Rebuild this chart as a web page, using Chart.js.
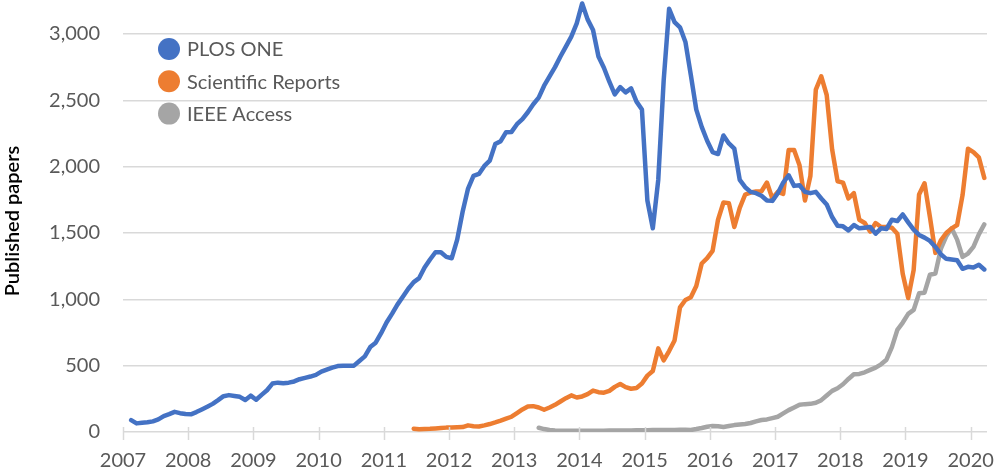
<!DOCTYPE html>
<html>
<head>
<meta charset="utf-8">
<script src="https://cdn.jsdelivr.net/npm/chart.js@4/dist/chart.umd.min.js"></script>
<style>
  html, body { margin: 0; padding: 0; background: #ffffff; }
  #wrap { width: 997px; height: 469px; position: relative; }
</style>
</head>
<body>
<div id="wrap"><canvas id="c"></canvas></div>
<script>
// ---- Data (monthly counts of published papers) ----
const seriesNames = ["PLOS ONE", "Scientific Reports", "IEEE Access"];
const seriesColors = ["#4472C4", "#ED7D31", "#A5A5A5"];
const yTitle = "Published papers";
const xTickYears = [2007, 2008, 2009, 2010, 2011, 2012, 2013, 2014, 2015, 2016, 2017, 2018, 2019, 2020];
const yTickValues = [0, 500, 1000, 1500, 2000, 2500, 3000];

// first month of each series: [year, month(1-12)]
const plosStart = [2007, 2];
const sciRepStart = [2011, 6];
const ieeeStart = [2013, 5];

const plosOne = [
  90, 65, 70, 73, 80, 95, 120, 135, 152, 142, 135,
  133, 150, 170, 190, 212, 240, 270, 278, 272, 265, 241, 274,
  243, 280, 315, 365, 372, 368, 372, 381, 398, 408, 418, 430,
  455, 470, 485, 497, 500, 500, 500, 535, 570, 640, 673, 745,
  825, 890, 960, 1020, 1080, 1130, 1160, 1240, 1300, 1355, 1355, 1320,
  1310, 1450, 1660, 1835, 1930, 1945, 2005, 2045, 2170, 2192, 2260, 2262,
  2320, 2358, 2410, 2470, 2520, 2610, 2680, 2750, 2830, 2905, 2980, 3080,
  3230, 3110, 3030, 2830, 2745, 2640, 2545, 2600, 2560, 2590, 2490, 2430,
  1745, 1535, 1900, 2650, 3190, 3090, 3050, 2940, 2690, 2430, 2300, 2195,
  2110, 2095, 2235, 2175, 2135, 1900, 1845, 1810, 1800, 1780, 1745, 1742,
  1800, 1880, 1935, 1855, 1860, 1810, 1800, 1810, 1760, 1715, 1620, 1555,
  1550, 1520, 1560, 1535, 1540, 1545, 1495, 1535, 1530, 1600, 1590, 1640,
  1580, 1525, 1485, 1465, 1440, 1395, 1340, 1305, 1300, 1295, 1230, 1245,
  1240, 1260, 1225
];

const sciRep = [
  25, 20, 22, 24, 27, 30, 33,
  33, 35, 37, 50, 44, 42, 50, 60, 72, 85, 100, 115,
  142, 170, 192, 195, 185, 168, 185, 205, 230, 255, 276, 260,
  268, 285, 312, 300, 296, 310, 340, 362, 338, 326, 332, 365,
  425, 460, 630, 540, 610, 690, 940, 995, 1015, 1100, 1270, 1310,
  1365, 1600, 1730, 1725, 1545, 1690, 1790, 1805, 1812, 1815, 1880, 1760,
  1810, 1795, 2125, 2125, 2010, 1745, 1930, 2580, 2680, 2540, 2130, 1890,
  1880, 1760, 1800, 1600, 1575, 1510, 1575, 1545, 1545, 1540, 1495, 1190,
  1010, 1220, 1790, 1875, 1620, 1350, 1445, 1500, 1535, 1560, 1785, 2135,
  2110, 2070, 1915
];

const ieeeAccess = [
  32, 22, 15, 12, 10, 10, 10, 10,
  10, 10, 10, 10, 10, 12, 12, 12, 12, 12, 13, 14,
  14, 15, 15, 15, 16, 16, 17, 17, 15, 22, 30, 40,
  45, 43, 38, 45, 52, 57, 60, 68, 80, 90, 95, 105,
  115, 140, 165, 185, 205, 210, 212, 220, 240, 275, 310, 330,
  360, 400, 435, 438, 450, 468, 485, 510, 545, 640, 770, 825,
  890, 920, 1045, 1050, 1185, 1195, 1380, 1475, 1535, 1450, 1320, 1345,
  1395, 1490, 1565
];

// ---- helpers ----
function toPoints(values, start) {
  return values.map((v, k) => {
    const m = (start[1] - 1) + k;           // months since Jan of start year
    return { x: start[0] + (m + 0.5) / 12, y: v };
  });
}

const FONT = "Lato, 'Open Sans', 'DejaVu Sans', sans-serif";

function zeroPad(s) { s.paddingTop = 0; s.paddingBottom = 0; s.paddingLeft = 0; s.paddingRight = 0; }

// custom legend + crossing tick marks + rotated axis title
const extras = {
  id: 'extras',
  afterDraw(chart) {
    const ctx = chart.ctx;
    const xs = chart.scales.x;
    const area = chart.chartArea;
    ctx.save();
    // tick marks crossing the category axis
    ctx.strokeStyle = '#D9D9D9';
    ctx.lineWidth = 1.5;
    xTickYears.forEach(yr => {
      const px = Math.round(xs.getPixelForValue(yr)) + 0.5;
      ctx.beginPath();
      ctx.moveTo(px, area.bottom - 5);
      ctx.lineTo(px, area.bottom + 8);
      ctx.stroke();
    });
    // axis title
    ctx.fillStyle = '#000000';
    ctx.font = "600 20px " + FONT;
    ctx.textAlign = 'center';
    ctx.textBaseline = 'middle';
    ctx.translate(13, 221);
    ctx.rotate(-Math.PI / 2);
    ctx.fillText(yTitle, 0, 0);
    ctx.restore();

    // legend
    ctx.save();
    ctx.font = "20px " + FONT;
    ctx.textAlign = 'left';
    ctx.textBaseline = 'middle';
    chart.data.datasets.forEach((ds, i) => {
      const cy = 49 + i * 32.3;
      ctx.beginPath();
      ctx.fillStyle = ds.borderColor;
      ctx.arc(169, cy, 11, 0, Math.PI * 2);
      ctx.fill();
      ctx.fillStyle = '#595959';
      ctx.fillText(ds.label, 187, cy + 1);
    });
    ctx.restore();
  }
};

const datasets = [
  { label: seriesNames[0], data: toPoints(plosOne, plosStart), borderColor: seriesColors[0] },
  { label: seriesNames[1], data: toPoints(sciRep, sciRepStart), borderColor: seriesColors[1] },
  { label: seriesNames[2], data: toPoints(ieeeAccess, ieeeStart), borderColor: seriesColors[2] }
].map(d => Object.assign(d, {
  backgroundColor: d.borderColor,
  borderWidth: 4.5,
  pointRadius: 0,
  pointHoverRadius: 0,
  tension: 0,
  borderJoinStyle: 'round',
  borderCapStyle: 'round',
  fill: false
}));

new Chart(document.getElementById('c'), {
  type: 'line',
  data: { datasets },
  options: {
    responsive: true,
    maintainAspectRatio: false,
    animation: false,
    devicePixelRatio: 1,
    layout: { padding: { left: 0, right: 10, top: 0, bottom: 0 } },
    plugins: { legend: { display: false }, tooltip: { enabled: false } },
    scales: {
      x: {
        type: 'linear',
        min: 2007,
        max: 2020.25,
        afterFit(s) { s.height = 37; zeroPad(s); },
        afterBuildTicks(s) { s.ticks = xTickYears.map(v => ({ value: v })); },
        grid: { display: false, drawTicks: false },
        border: { display: false },
        ticks: {
          autoSkip: false,
          maxRotation: 0,
          padding: 17,
          color: '#595959',
          font: { family: FONT, size: 20 },
          callback: v => String(v)
        }
      },
      y: {
        min: 0,
        max: 3256,
        afterFit(s) { s.width = 123; zeroPad(s); },
        afterBuildTicks(s) { s.ticks = yTickValues.map(v => ({ value: v })); },
        grid: { color: '#D9D9D9', lineWidth: 1.5, drawTicks: false },
        border: { display: false },
        ticks: {
          padding: 23,
          color: '#595959',
          font: { family: FONT, size: 20 },
          callback: v => Number(v).toLocaleString('en-US')
        }
      }
    }
  },
  plugins: [extras]
});
</script>
</body>
</html>
